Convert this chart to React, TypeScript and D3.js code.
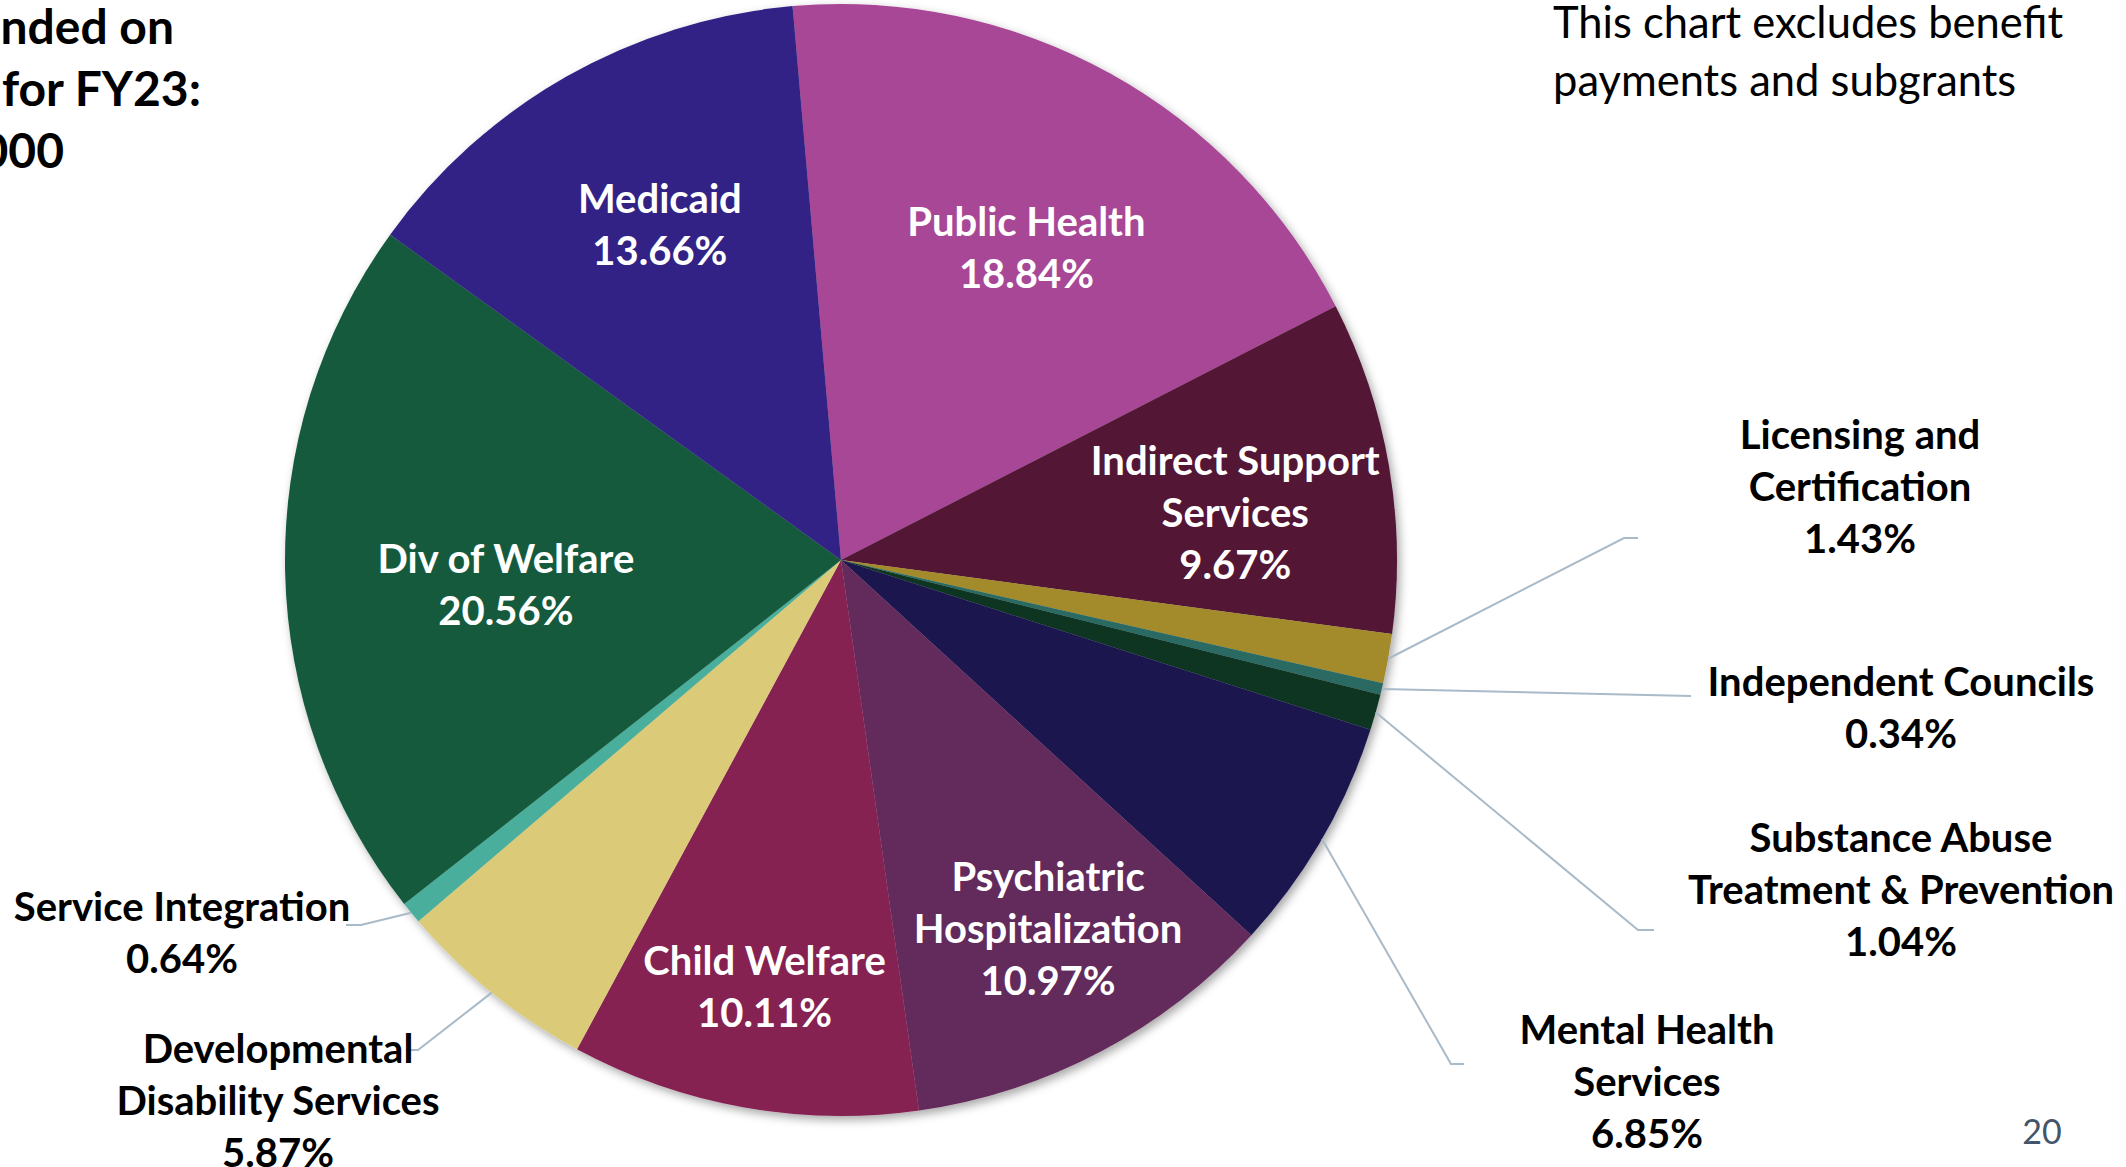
import React from "react";
import * as d3 from "d3";

// slices, clockwise from the top
const categories = [
  "Public Health",
  "Indirect Support Services",
  "Licensing and Certification",
  "Independent Councils",
  "Substance Abuse Treatment & Prevention",
  "Mental Health Services",
  "Psychiatric Hospitalization",
  "Child Welfare",
  "Developmental Disability Services",
  "Service Integration",
  "Div of Welfare",
  "Medicaid",
];
const shares = [18.84, 9.67, 1.43, 0.34, 1.04, 6.85, 10.97, 10.11, 5.87, 0.64, 20.56, 13.66];
const labelLines = [
  ["Public Health"],
  ["Indirect Support", "Services"],
  ["Licensing and", "Certification"],
  ["Independent Councils"],
  ["Substance Abuse", "Treatment & Prevention"],
  ["Mental Health", "Services"],
  ["Psychiatric", "Hospitalization"],
  ["Child Welfare"],
  ["Developmental", "Disability Services"],
  ["Service Integration"],
  ["Div of Welfare"],
  ["Medicaid"],
];
const colors = [
  "#a84696", "#521535", "#a38a2c", "#2a6b63", "#0e3624", "#1e1650",
  "#64295c", "#862151", "#dbcb79", "#48ae9c", "#155a3c", "#322286",
];
const titleLines = ["nded on", " for FY23:", "000"];
const noteLines = ["This chart excludes benefit", "payments and subgrants"];

// label layout: inside labels sit on the slice's mid angle, outside ones are placed by hand
type Place =
  | { kind: "in"; r: number; nudge: number }
  | { kind: "out"; x: number; y: number; path: [number, number][] };
const places: Place[] = [
  { kind: "in", r: 363, nudge: 1.8 },
  { kind: "in", r: 397, nudge: 3 },
  { kind: "out", x: 1860, y: 487, path: [[1624, 538], [1638, 538]] },
  { kind: "out", x: 1901, y: 708, path: [[1691, 696]] },
  { kind: "out", x: 1901, y: 890, path: [[1638, 930], [1654, 930]] },
  { kind: "out", x: 1647, y: 1082, path: [[1451, 1064], [1464, 1064]] },
  { kind: "in", r: 423, nudge: -1.5 },
  { kind: "in", r: 434, nudge: 0 },
  { kind: "out", x: 278, y: 1101, path: [[418, 1050], [406, 1050]] },
  { kind: "out", x: 182, y: 933, path: [[361, 925], [346, 925]] },
  { kind: "in", r: 336, nudge: -3 },
  { kind: "in", r: 381, nudge: 1.2 },
];

const W = 2126;
const H = 1167;
const cx = 841;
const cy = 560;
const R = 556;
const lineH = 52;
const font = "Lato, 'Open Sans', sans-serif";

export default function App() {
  const data = categories.map((c, i) => ({ c, v: shares[i], i }));
  const start = (-5 * Math.PI) / 180;
  const pie = d3
    .pie<{ c: string; v: number; i: number }>()
    .value((d) => d.v)
    .sort(null)
    .startAngle(start)
    .endAngle(start + 2 * Math.PI);
  const arcs = pie(data);
  const arc = d3.arc<d3.PieArcDatum<any>>().innerRadius(0).outerRadius(R);
  const polar = (a: number, r: number): [number, number] => [
    Math.sin(a) * r,
    -Math.cos(a) * r,
  ];

  return (
    <svg
      width={W}
      height={H}
      style={{ position: "absolute", left: 0, top: 0, background: "#fff" }}
      fontFamily={font}
    >
      <defs>
        <filter id="shadow" x="-10%" y="-10%" width="120%" height="120%">
          <feDropShadow dx="3" dy="4" stdDeviation="5" floodColor="#000" floodOpacity="0.35" />
        </filter>
      </defs>

      {/* title, cut off at the left edge */}
      <g fontWeight="bold" fontSize={48} fill="#000" textAnchor="end">
        {titleLines.map((t, i) => (
          <text key={i} x={[174, 201, 64][i]} y={44 + i * 62}>
            {t}
          </text>
        ))}
      </g>

      <g fontSize={43.5} fill="#000">
        {noteLines.map((t, i) => (
          <text key={i} x={1553} y={38 + i * 58}>
            {t}
          </text>
        ))}
      </g>

      <g transform={`translate(${cx},${cy})`}>
        <g filter="url(#shadow)">
          {arcs.map((a) => (
            <path key={a.data.c} d={arc(a) as string} fill={colors[a.data.i]} />
          ))}
        </g>

        {/* leader lines */}
        {arcs.map((a) => {
          const p = places[a.data.i];
          if (p.kind !== "out") return null;
          const mid = (a.startAngle + a.endAngle) / 2;
          const s = polar(mid, R);
          const pts: [number, number][] = [s, ...p.path.map(([x, y]) => [x - cx, y - cy] as [number, number])];
          return (
            <path
              key={"l" + a.data.c}
              d={d3.line()(pts) as string}
              fill="none"
              stroke="#a9bac8"
              strokeWidth={2}
            />
          );
        })}

        {/* labels */}
        {arcs.map((a) => {
          const p = places[a.data.i];
          const lines = [...labelLines[a.data.i], `${a.data.v.toFixed(2)}%`];
          let x: number, y: number, fill: string;
          if (p.kind === "in") {
            const mid = (a.startAngle + a.endAngle) / 2 + (p.nudge * Math.PI) / 180;
            [x, y] = polar(mid, p.r);
            fill = "#fff";
          } else {
            x = p.x - cx;
            y = p.y - cy;
            fill = "#000";
          }
          const y0 = y - ((lines.length - 1) / 2) * lineH;
          return (
            <text
              key={"t" + a.data.c}
              textAnchor="middle"
              fontWeight="bold"
              fontSize={40}
              fill={fill}
            >
              {lines.map((t, k) => (
                <tspan key={k} x={x} y={y0 + k * lineH} dy="0.35em">
                  {t}
                </tspan>
              ))}
            </text>
          );
        })}
      </g>

      <text x={2042} y={1132} dy="0.35em" textAnchor="middle" fontSize={34} fill="#44546a">
        20
      </text>
    </svg>
  );
}
